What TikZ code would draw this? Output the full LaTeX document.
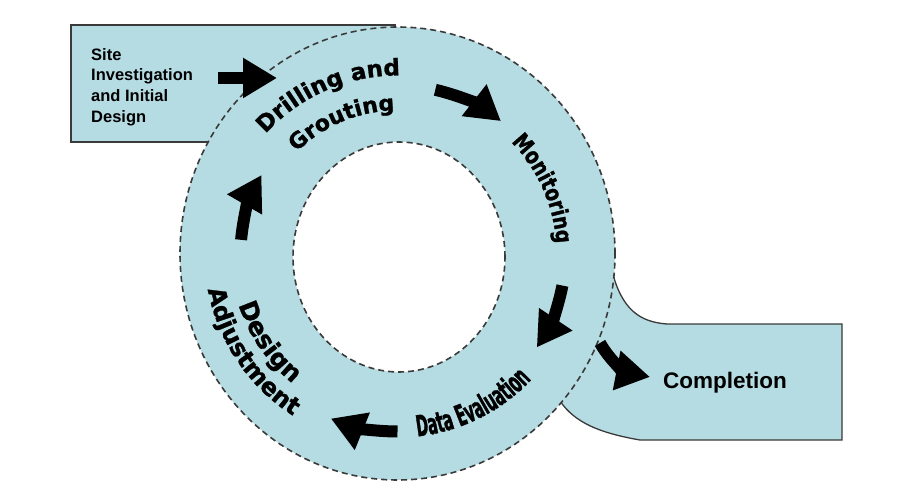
\documentclass[tikz,border=0pt]{standalone}
\usepackage{fontspec}
\setmainfont{Liberation Sans}
\newfontfamily\ringfont[BoldFeatures={FakeBold=1.2}]{DejaVu Sans}
\newfontfamily\ringnarrow[FakeStretch=0.8,BoldFeatures={FakeBold=1.2}]{DejaVu Sans}
\newfontfamily\ringcond[FakeStretch=0.5,BoldFeatures={FakeBold=1.2}]{DejaVu Sans}
\usetikzlibrary{arrows.meta,decorations.text}
\definecolor{cyclefill}{HTML}{B5DCE2}
\definecolor{cycleline}{HTML}{3A3A3A}

\begin{document}
\begin{tikzpicture}[x=1pt,y=1pt,
    boxline/.style={draw=cycleline,line width=1.3pt},
    ringdash/.style={draw=cycleline,line width=1.6pt,dash pattern=on 6pt off 4pt},
    flowarrow/.style={line width=12pt,-{Triangle[length=34pt,width=38pt]}},
    ringtext/.style={decorate,decoration={text along path,text align=center,text={#1}}}]
    \useasboundingbox (0,0) rectangle (899,485);
    \coordinate (hub) at (397.5,231.5);
    % boxes behind the ring
    \fill[cyclefill] (71,343) rectangle (396,460);
    \draw[boxline] (396,460) -- (71,460) -- (71,343) -- (240,343);
    \fill[cyclefill] (612,214) .. controls (622,175) and (640,163) .. (667,161)
      -- (842,161) -- (842,45) -- (640,45)
      .. controls (600,52) and (575,62) .. (560,84) -- (520,140) -- cycle;
    \draw[boxline] (612,214) .. controls (622,175) and (640,163) .. (667,161)
      -- (842,161) -- (842,45) -- (640,45)
      .. controls (600,52) and (575,62) .. (560,84);
    % the ring
    \fill[cyclefill] (hub) ellipse[x radius=217.5,y radius=226.5];
    \draw[ringdash] (hub) ellipse[x radius=217.5,y radius=226.5];
    \filldraw[fill=white,ringdash] (399,228) ellipse[x radius=106,y radius=115];
    % box labels
    \node[anchor=north west,inner sep=0,align=left,
      font=\bfseries\fontsize{16.5}{20.7}\selectfont] (site) at (91,437)
      {Site\\Investigation\\and Initial\\Design};
    \node[anchor=base west,inner sep=0,
      font=\bfseries\fontsize{22.5}{27}\selectfont] (done) at (663,97) {Completion};
    % stage labels on the ring
    \path[ringtext={|\ringfont\bfseries\fontsize{23}{23}\selectfont|Drilling and}]
      ([shift={(150:178)}]hub) arc[start angle=150,end angle=77,radius=178];
    \path[ringtext={|\ringfont\bfseries\fontsize{22}{22}\selectfont|Grouting}]
      ([shift={(150:143)}]hub) arc[start angle=150,end angle=76,radius=143];
    \path[ringtext={|\ringnarrow\bfseries\fontsize{23}{23}\selectfont|Monitoring}]
      ([shift={(60:159)}]hub) arc[start angle=60,end angle=-12,radius=159];
    \path[ringtext={|\ringcond\bfseries\fontsize{29}{29}\selectfont|Data Evaluation}]
      ([shift={(-102:184)}]hub) arc[start angle=-102,end angle=-25,radius=184];
    \path[ringtext={|\ringfont\bfseries\fontsize{25}{25}\selectfont|Design}]
      ([shift={(185:167)}]hub) arc[start angle=185,end angle=244,radius=167];
    \path[ringtext={|\ringfont\bfseries\fontsize{24}{24}\selectfont|Adjustment}]
      ([shift={(180:193)}]hub) arc[start angle=180,end angle=248,radius=193];
    % arrows
    \coordinate (in1) at (218,407);
    \coordinate (in2) at (277,407);
    \coordinate (out1) at (600,142);
    \coordinate (out2) at (650,108);
    \draw[flowarrow] (in1) -- (in2);
    \draw[flowarrow] ([shift={(77:168)}]hub) arc[start angle=77,end angle=52,radius=168];
    \draw[flowarrow] ([shift={(-11:168)}]hub) arc[start angle=-11,end angle=-34,radius=168];
    \draw[flowarrow] ([shift={(-90:178)}]hub) arc[start angle=-90,end angle=-112,radius=178];
    \draw[flowarrow] ([shift={(175:157)}]hub) arc[start angle=175,end angle=150,radius=157];
    \draw[flowarrow] (out1) to[out=-60,in=169] (out2);
\end{tikzpicture}
\end{document}
